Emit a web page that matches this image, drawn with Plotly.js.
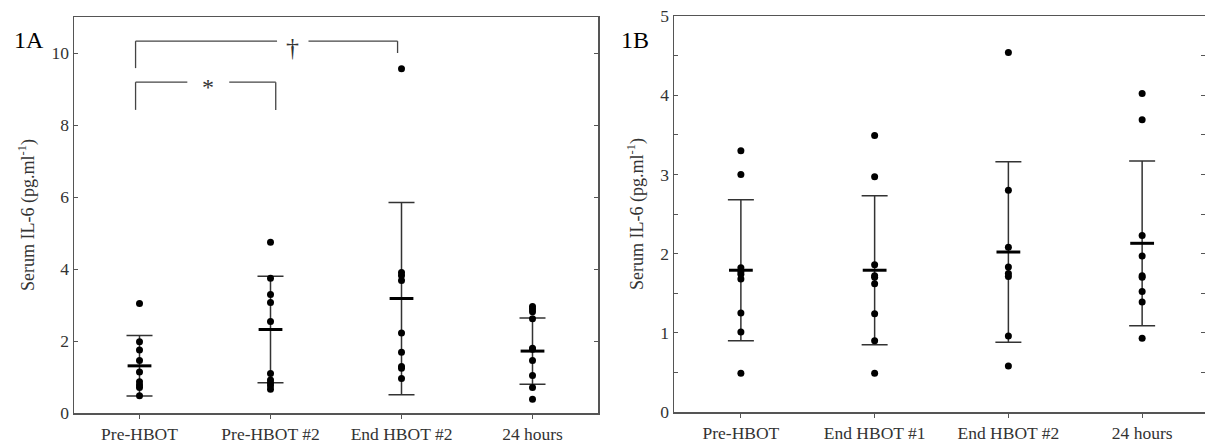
<!DOCTYPE html>
<html>
<head>
<meta charset="utf-8">
<script src="https://cdn.plot.ly/plotly-3.0.1.min.js"></script>
<style>
  html, body { margin: 0; padding: 0; background: #fff; }
  #chart { width: 1205px; height: 443px; }
</style>
</head>
<body>
<div id="chart"></div>
<script>
// ---------- Data ----------
const categoriesA = ['Pre-HBOT', 'Pre-HBOT #2', 'End HBOT #2', '24 hours'];
const preHbotA    = [3.04, 1.98, 1.75, 1.46, 1.14, 0.87, 0.78, 0.71, 0.48];
const preHbot2A   = [4.74, 3.74, 3.29, 3.07, 2.54, 1.10, 0.92, 0.83, 0.76, 0.66];
const endHbot2A   = [9.56, 3.90, 3.82, 3.68, 2.22, 1.69, 1.29, 1.24, 0.96];
const hours24A    = [2.96, 2.89, 2.81, 2.62, 1.80, 1.77, 1.46, 1.04, 0.71, 0.38];
const meansA      = [1.31, 2.32, 3.18, 1.72];
const sdA         = [0.84, 1.48, 2.67, 0.92];

const categoriesB = ['Pre-HBOT', 'End HBOT #1', 'End HBOT #2', '24 hours'];
const preHbotB    = [3.30, 3.00, 1.82, 1.77, 1.74, 1.68, 1.25, 1.01, 0.49];
const endHbot1B   = [3.49, 2.97, 1.86, 1.72, 1.70, 1.62, 1.24, 0.90, 0.49];
const endHbot2B   = [4.54, 2.80, 2.08, 1.83, 1.75, 1.71, 0.96, 0.58];
const hours24B    = [4.02, 3.69, 2.23, 1.97, 1.72, 1.70, 1.52, 1.39, 0.93];
const meansB      = [1.79, 1.79, 2.02, 2.13];
const sdB         = [0.89, 0.94, 1.14, 1.04];

const yTitle = 'Serum IL-6 (pg.ml<sup>-1</sup>)';
const sigLabels = ['*', '†'];

// ---------- Helpers ----------
function pointTrace(cats, groups, xa, ya) {
  const x = [], y = [];
  groups.forEach((g, i) => g.forEach(v => { x.push(cats[i]); y.push(v); }));
  return {
    type: 'scatter', mode: 'markers', x: x, y: y, xaxis: xa, yaxis: ya,
    marker: { color: '#000', size: 7 }, hoverinfo: 'y', showlegend: false
  };
}
function meanTrace(cats, means, sds, xa, ya) {
  return {
    type: 'scatter', mode: 'markers', x: cats, y: means, xaxis: xa, yaxis: ya,
    marker: { symbol: 'line-ew', size: 17, color: '#000', line: { color: '#000', width: 3 } },
    error_y: { type: 'data', array: sds, visible: true, color: '#333', thickness: 1.5, width: 13 },
    hoverinfo: 'y', showlegend: false
  };
}

const traces = [
  meanTrace(categoriesA, meansA, sdA, 'x', 'y'),
  pointTrace(categoriesA, [preHbotA, preHbot2A, endHbot2A, hours24A], 'x', 'y'),
  meanTrace(categoriesB, meansB, sdB, 'x2', 'y2'),
  pointTrace(categoriesB, [preHbotB, endHbot1B, endHbot2B, hours24B], 'x2', 'y2')
];

const fontFam = 'Liberation Serif, Times New Roman, serif';
const txtColor = '#333';
const lineColor = '#555';

// significance brackets on panel A (category-index coordinates)
const brackets = [
  { x0: -0.03, x1: 1.04, y: 9.19, legL: 8.42, legR: 8.42, lx: 0.525, gap: 0.16, label: sigLabels[0], shift: -5, size: 24 },
  { x0: -0.03, x1: 1.97, y: 10.33, legL: 9.58, legR: 10.0, lx: 1.17, gap: 0.12, label: sigLabels[1], shift: -6, size: 26 }
];
const shapes = [];
const annotations = [];
brackets.forEach(b => {
  const ln = { color: '#444', width: 1.3 };
  shapes.push({ type: 'line', xref: 'x', yref: 'y', x0: b.x0, x1: b.x0, y0: b.legL, y1: b.y, line: ln });
  shapes.push({ type: 'line', xref: 'x', yref: 'y', x0: b.x0, x1: b.lx - b.gap, y0: b.y, y1: b.y, line: ln });
  shapes.push({ type: 'line', xref: 'x', yref: 'y', x0: b.lx + b.gap, x1: b.x1, y0: b.y, y1: b.y, line: ln });
  shapes.push({ type: 'line', xref: 'x', yref: 'y', x0: b.x1, x1: b.x1, y0: b.y, y1: b.legR, line: ln });
  annotations.push({ xref: 'x', yref: 'y', x: b.lx, y: b.y, yshift: b.shift, text: b.label, showarrow: false,
    xanchor: 'center', yanchor: 'middle', font: { family: fontFam, size: b.size, color: '#333' } });
});
annotations.push({ xref: 'paper', yref: 'paper', x: 12 / 1205, y: 1 - 40 / 443, text: '1A', showarrow: false,
  xanchor: 'left', yanchor: 'middle', font: { family: fontFam, size: 24, color: '#000' } });
annotations.push({ xref: 'paper', yref: 'paper', x: 619 / 1205, y: 1 - 40 / 443, text: '1B', showarrow: false,
  xanchor: 'left', yanchor: 'middle', font: { family: fontFam, size: 24, color: '#000' } });

const tickFont = { family: fontFam, size: 17.5, color: txtColor };
const titleFont = { family: fontFam, size: 18, color: txtColor };

const layout = {
  width: 1205, height: 443,
  margin: { l: 0, r: 0, t: 0, b: 0, pad: 0 },
  paper_bgcolor: '#fff', plot_bgcolor: '#fff',
  font: { family: fontFam, color: txtColor },
  showlegend: false,
  xaxis: {
    domain: [74 / 1205, 598 / 1205], type: 'category', categoryorder: 'array', categoryarray: categoriesA,
    range: [-0.5, 3.5], showgrid: false, zeroline: false,
    showline: true, linecolor: lineColor, linewidth: 1.5, mirror: true,
    ticks: 'outside', ticklen: 4, tickcolor: lineColor, tickfont: tickFont
  },
  yaxis: {
    domain: [30 / 443, 426 / 443], range: [0, 11], dtick: 2, tick0: 0,
    showgrid: false, zeroline: false,
    showline: true, linecolor: lineColor, linewidth: 1.5, mirror: 'ticks',
    ticks: 'inside', ticklen: 4, tickcolor: lineColor, tickfont: tickFont,
    title: { text: yTitle, font: titleFont, standoff: 12 }
  },
  xaxis2: {
    domain: [674 / 1205, 1], anchor: 'y2', type: 'category', categoryorder: 'array', categoryarray: categoriesB,
    range: [-0.5, 3.47], showgrid: false, zeroline: false,
    showline: true, linecolor: lineColor, linewidth: 1.5, mirror: true,
    ticks: 'outside', ticklen: 4, tickcolor: lineColor, tickfont: tickFont
  },
  yaxis2: {
    domain: [31 / 443, 427 / 443], anchor: 'x2', range: [0, 5], dtick: 1, tick0: 0,
    showgrid: false, zeroline: false,
    showline: true, linecolor: lineColor, linewidth: 1.5, mirror: 'ticks',
    ticks: 'inside', ticklen: 4, tickcolor: lineColor, tickfont: tickFont,
    minor: { dtick: 0.5, ticks: 'inside', ticklen: 4, tickcolor: lineColor, showgrid: false },
    title: { text: yTitle, font: titleFont, standoff: 12 }
  },
  shapes: shapes,
  annotations: annotations
};

Plotly.newPlot('chart', traces, layout, { displayModeBar: false, staticPlot: true });
</script>
</body>
</html>
